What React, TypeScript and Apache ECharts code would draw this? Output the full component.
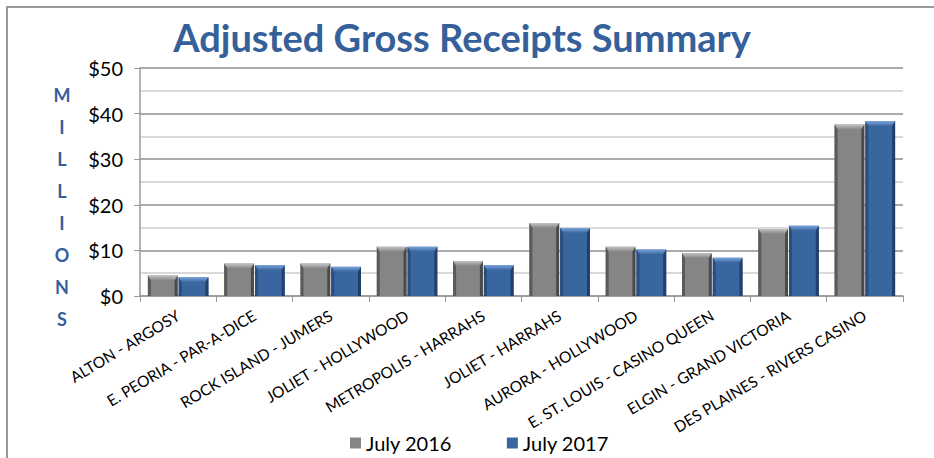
import React, { useEffect, useRef } from "react";
import * as echarts from "echarts";

const categories = [
  "ALTON - ARGOSY",
  "E. PEORIA - PAR-A-DICE",
  "ROCK ISLAND - JUMERS",
  "JOLIET - HOLLYWOOD",
  "METROPOLIS - HARRAHS",
  "JOLIET - HARRAHS",
  "AURORA - HOLLYWOOD",
  "E. ST. LOUIS - CASINO QUEEN",
  "ELGIN - GRAND VICTORIA",
  "DES PLAINES - RIVERS CASINO",
];
const july2016 = [4.5, 7.1, 7.1, 10.8, 7.7, 16.0, 10.8, 9.4, 14.7, 37.6];
const july2017 = [4.1, 6.75, 6.4, 10.8, 6.75, 14.9, 10.2, 8.4, 15.4, 38.3];
const seriesNames = ["July 2016", "July 2017"];
const yTicks = [0, 10, 20, 30, 40, 50];

const palettes = [
  { main: "#858585", light: "#c4c4c4", dark: "#5a5a5a", darker: "#4a4a4a" },
  { main: "#3a66a0", light: "#79a3db", dark: "#2a4d7c", darker: "#20406a" },
];

const FONT = "Lato, 'Open Sans', sans-serif";

function makeRender(si: number) {
  return (params: any, api: any) => {
    const idx = api.value(0);
    const val = api.value(1);
    const base = api.coord([idx, 0]);
    const top = api.coord([idx, val]);
    const bw = api.size([1, 0])[0];
    const w = bw * 0.39;
    const x0 = si === 0 ? base[0] - w - 0.5 : base[0] + 0.5;
    const x1 = x0 + w;
    const y0 = top[1];
    const y1 = base[1];
    const b = Math.min(5, (y1 - y0) / 2);
    const s = 3;
    const p = palettes[si];
    return {
      type: "group",
      children: [
        {
          type: "rect",
          shape: { x: x0, y: y0, width: w, height: y1 - y0 },
          style: { fill: p.main },
        },
        {
          type: "polygon",
          shape: { points: [[x0, y0], [x1, y0], [x1 - s, y0 + b], [x0 + s, y0 + b]] },
          style: {
            fill: new echarts.graphic.LinearGradient(0, 0, 0, 1, [
              { offset: 0, color: p.light },
              { offset: 1, color: p.main },
            ]),
          },
        },
        {
          type: "polygon",
          shape: { points: [[x0, y0], [x0 + s, y0 + b], [x0 + s, y1], [x0, y1]] },
          style: { fill: p.dark },
        },
        {
          type: "polygon",
          shape: { points: [[x1, y0], [x1 - s, y0 + b], [x1 - s, y1], [x1, y1]] },
          style: { fill: p.darker },
        },
      ],
    };
  };
}

export default function App() {
  const ref = useRef<HTMLDivElement>(null);
  useEffect(() => {
    document.body.style.margin = "0";
    const chart = echarts.init(ref.current!, null, { renderer: "svg" });
    const option: any = {
      animation: false,
      backgroundColor: "#ffffff",
      grid: { left: 140, right: 31, top: 68, bottom: 162 },
      legend: {
        left: 345,
        top: 428,
        itemWidth: 11,
        itemHeight: 11,
        itemGap: 55,
        icon: "rect",
        textStyle: { fontFamily: FONT, fontSize: 20, color: "#000" },
        data: seriesNames.map((n, i) => ({
          name: n,
          itemStyle: { color: palettes[i].main },
        })),
      },
      xAxis: {
        type: "category",
        data: categories,
        axisLine: { lineStyle: { color: "#9a9a9a", width: 1.5 } },
        axisTick: { show: true, interval: 0, length: 6, lineStyle: { color: "#9a9a9a" } },
        axisLabel: {
          interval: 0,
          rotate: 31,
          margin: 18,
          fontFamily: FONT,
          fontSize: 15.5,
          color: "#000",
        },
        splitLine: { show: false },
      },
      yAxis: {
        type: "value",
        min: yTicks[0],
        max: yTicks[yTicks.length - 1],
        interval: 10,
        axisLine: { show: true, lineStyle: { color: "#9a9a9a", width: 1.5 } },
        axisTick: { show: true, length: 6, lineStyle: { color: "#9a9a9a" } },
        axisLabel: {
          margin: 17,
          fontFamily: FONT,
          fontSize: 20,
          color: "#000",
          formatter: (v: number) => "$" + v,
        },
        splitLine: { show: true, lineStyle: { color: "#8f8f8f", width: 1.5 } },
        minorTick: { show: false, splitNumber: 2 },
        minorSplitLine: { show: true, lineStyle: { color: "#cccccc", width: 1.5 } },
      },
      series: [july2016, july2017].map((arr, si) => ({
        name: seriesNames[si],
        type: "custom",
        itemStyle: { color: palettes[si].main },
        encode: { x: 0, y: 1 },
        data: arr.map((v, i) => [i, v]),
        renderItem: makeRender(si),
      })),
      graphic: [
        {
          type: "line",
          shape: { x1: 6, y1: 7, x2: 934, y2: 7 },
          style: { stroke: "#999999", lineWidth: 2 },
        },
        {
          type: "line",
          shape: { x1: 7, y1: 6, x2: 7, y2: 458 },
          style: { stroke: "#999999", lineWidth: 2 },
        },
        {
          type: "text",
          x: 462,
          y: 37,
          style: {
            text: "Adjusted Gross Receipts Summary",
            fontFamily: FONT,
            fontWeight: "bold",
            fontSize: 38,
            fill: "#35609a",
            textAlign: "center",
            textVerticalAlign: "middle",
          },
        },
        {
          type: "text",
          x: 62,
          y: 79,
          style: {
            text: "M\nI\nL\nL\nI\nO\nN\nS",
            fontFamily: FONT,
            fontWeight: "bold",
            fontSize: 18,
            lineHeight: 32,
            fill: "#35609a",
            textAlign: "center",
            textVerticalAlign: "top",
          },
        },
      ],
    };
    chart.setOption(option);
    return () => chart.dispose();
  }, []);
  return <div ref={ref} style={{ width: 934, height: 458 }} />;
}
